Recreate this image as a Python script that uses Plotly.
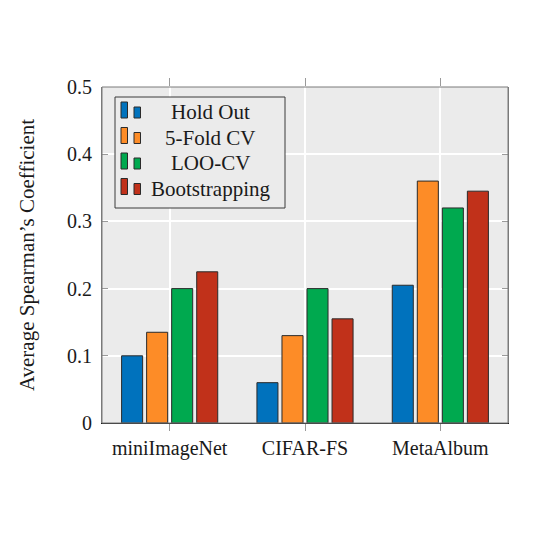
import plotly.graph_objects as go

categories = ["miniImageNet", "CIFAR-FS", "MetaAlbum"]
series_names = ["Hold Out", "5-Fold CV", "LOO-CV", "Bootstrapping"]
hold_out = [0.100, 0.060, 0.205]
five_fold = [0.135, 0.130, 0.360]
loo_cv = [0.200, 0.200, 0.320]
bootstrapping = [0.225, 0.155, 0.345]
series_values = [hold_out, five_fold, loo_cv, bootstrapping]
colors = ["#0072bd", "#fd8c27", "#00a94f", "#c1311a"]
y_ticks = [0, 0.1, 0.2, 0.3, 0.4, 0.5]
y_tick_labels = ["0", "0.1", "0.2", "0.3", "0.4", "0.5"]

FONT = "Liberation Serif"
OFF = 8  # page body margin
W, H = 545, 545
L, R, T, B = 102, 508, 87, 423  # plot area in window pixels

fig = go.Figure()
for name, vals, col in zip(series_names, series_values, colors):
    fig.add_trace(go.Bar(
        x=categories, y=vals, name=name,
        marker=dict(color=col, line=dict(color="#2a2a2a", width=1)),
        showlegend=False,
    ))
# invisible trace on a top axis to carry the mirrored category ticks
fig.add_trace(go.Scatter(x=categories, y=[None] * len(categories), xaxis="x2",
                         mode="markers", showlegend=False, hoverinfo="skip"))

def px(x):
    return (x - L) / (R - L)

def py(y):
    return (B - y) / (B - T)

shapes = []
annotations = []
shapes.append(dict(type="rect", xref="paper", yref="paper", x0=0, x1=1, y0=0, y1=1,
                   line=dict(color="#7a7a7a", width=1), layer="above"))
shapes.append(dict(type="rect", xref="paper", yref="paper",
                   x0=px(115), x1=px(285), y0=py(208), y1=py(97),
                   fillcolor="#ebebeb", line=dict(color="#3a3a3a", width=1), layer="above"))
row_y = [111, 136.5, 162, 187.5]
for i, (name, col) in enumerate(zip(series_names, colors)):
    yc = row_y[i]
    shapes.append(dict(type="rect", xref="paper", yref="paper",
                       x0=px(121), x1=px(127.5), y0=py(yc + 7), y1=py(yc - 9),
                       fillcolor=col, line=dict(color="#2a2a2a", width=1), layer="above"))
    shapes.append(dict(type="rect", xref="paper", yref="paper",
                       x0=px(134), x1=px(140.5), y0=py(yc + 7), y1=py(yc - 4),
                       fillcolor=col, line=dict(color="#2a2a2a", width=1), layer="above"))
    annotations.append(dict(xref="paper", yref="paper", x=px(210), y=py(yc + 1),
                            text=name, showarrow=False, xanchor="center", yanchor="middle",
                            font=dict(family=FONT, size=21, color="#1a1a1a")))

fig.update_layout(
    width=W, height=H,
    margin=dict(l=L - OFF, r=W - (R - OFF), t=T - OFF, b=H - (B - OFF), autoexpand=False),
    paper_bgcolor="white", plot_bgcolor="#ebebeb",
    barmode="group", bargap=0.26, bargroupgap=0.16,
    font=dict(family=FONT, size=20, color="#1a1a1a"),
    shapes=shapes, annotations=annotations,
    showlegend=False,
    xaxis=dict(
        range=[-0.5, 2.5], showgrid=True, gridcolor="white", gridwidth=1.5,
        showline=True, linecolor="#1a1a1a", linewidth=1.2,
        ticks="outside", ticklen=7, tickcolor="#9a9a9a",
        tickfont=dict(family=FONT, size=20, color="#1a1a1a"),
        automargin=False,
    ),
    xaxis2=dict(
        overlaying="x", side="top", matches="x", range=[-0.5, 2.5],
        showgrid=False, showline=False, showticklabels=False,
        ticks="outside", ticklen=8, tickcolor="#9a9a9a", automargin=False,
    ),
    yaxis=dict(
        range=[0, 0.5], tickvals=y_ticks, ticktext=y_tick_labels,
        showgrid=True, gridcolor="white", gridwidth=1.5, zeroline=False,
        showline=True, linecolor="#7a7a7a", linewidth=1, mirror="ticks",
        ticks="inside", ticklen=6, tickcolor="#9a9a9a",
        tickfont=dict(family=FONT, size=20, color="#1a1a1a"),
        ticklabelstandoff=5,
        title=dict(text="Average Spearman’s Coefficient", standoff=26,
                   font=dict(family=FONT, size=21, color="#1a1a1a")),
        automargin=False,
    ),
)

fig.write_html("out.html")
